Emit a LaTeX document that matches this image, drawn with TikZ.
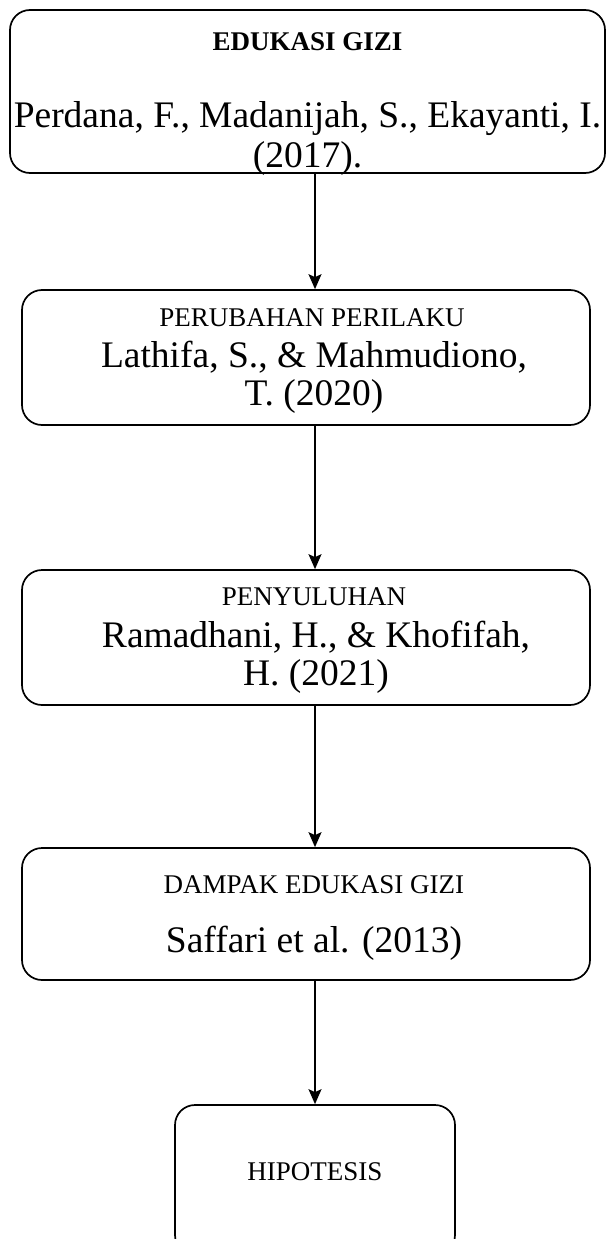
\documentclass[tikz,border=0pt]{standalone}
\usepackage{fontspec}
\setmainfont{Liberation Serif}
\usepackage{tikz}
\usetikzlibrary{positioning,arrows.meta}

\begin{document}
\begin{tikzpicture}[
    x=1pt, y=-1pt,
    box/.style={draw, line width=1.7pt, rounded corners=20pt, inner sep=0pt},
    ttl/.style={inner sep=0pt, font=\fontsize{27}{30}\selectfont},
    ref/.style={inner sep=0pt, align=center, font=\fontsize{37.5}{37}\selectfont},
    arr/.style={-{Stealth[length=15pt, width=13pt, inset=3pt]}, line width=1.7pt}
  ]
  \useasboundingbox (0,0) rectangle (606,1239);
  % ---------------- boxes ----------------
  \node[box, minimum width=595pt, minimum height=163pt] (b1) at (307.5,91.5)  {};
  \node[box, minimum width=568pt, minimum height=135pt] (b2) at (306,357.5)   {};
  \node[box, minimum width=568pt, minimum height=135pt] (b3) at (306,637.5)   {};
  \node[box, minimum width=568pt, minimum height=132pt] (b4) at (306,914)     {};
  \node[box, minimum width=280pt, minimum height=150pt] (b5) at (315,1180)    {};

  % ---------------- texts ----------------
  \node[ttl, font=\fontsize{27}{30}\selectfont\bfseries] (t1) at (307.5,42) {EDUKASI GIZI};
  \node[ref] (r1) at (307.5,138) {Perdana, F., Madanijah, S., Ekayanti, I.\\[3pt](2017).};
  \node[ttl] (t2) at (312,318) {PERUBAHAN PERILAKU};
  \node[ref] (r2) at (314,377) {Lathifa, S., \& Mahmudiono,\\[1pt]T. (2020)};
  \node[ttl] (t3) at (314,597) {PENYULUHAN};
  \node[ref] (r3) at (316,657) {Ramadhani, H., \& Khofifah,\\[1pt]H. (2021)};
  \node[ttl] (t4) at (314,885) {DAMPAK EDUKASI GIZI};
  \node[ref] (r4) at (314,943) {Saffari et al. (2013)};
  \node[ttl] (t5) at (315,1172) {HIPOTESIS};

  % ---------------- arrows ----------------
  \draw[arr] (b1.south -| b5.north) -- (b2.north -| b5.north);
  \draw[arr] (b2.south -| b5.north) -- (b3.north -| b5.north);
  \draw[arr] (b3.south -| b5.north) -- (b4.north -| b5.north);
  \draw[arr] (b4.south -| b5.north) -- (b5.north);
\end{tikzpicture}
\end{document}
